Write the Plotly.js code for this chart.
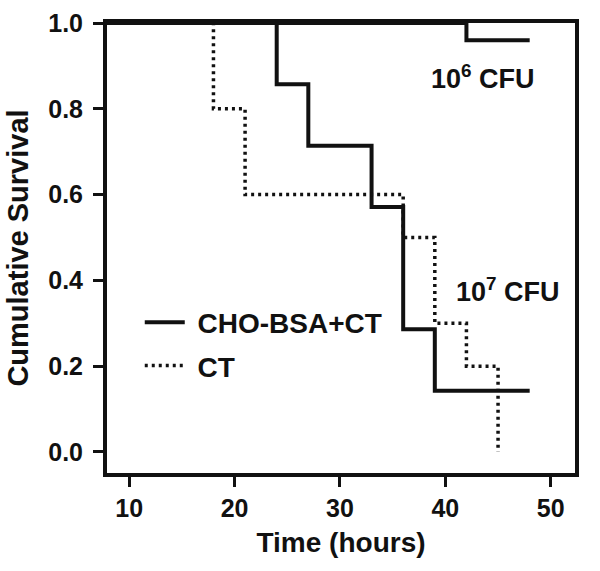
<!DOCTYPE html>
<html>
<head>
<meta charset="utf-8">
<script src="https://cdn.plot.ly/plotly-3.0.1.min.js"></script>
<style>html,body{margin:0;padding:0;background:#fff;}#chart{width:600px;height:571px;}</style>
</head>
<body>
<div id="chart"></div>
<script>
// Data (Kaplan-Meier step curves)
const choTime = [0, 24, 27, 33, 36, 39, 48];
const choSurv = [1.0, 0.857, 0.714, 0.571, 0.286, 0.143, 0.143];
const ctTime = [0, 18, 21, 36, 39, 42, 45];
const ctSurv = [1.0, 0.8, 0.6, 0.5, 0.3, 0.2, 0.0];
const lowDoseTime = [0, 42, 48];
const lowDoseSurv = [1.0, 0.96, 0.96];
const seriesNames = ["CHO-BSA+CT", "CT"];
const xTicks = [10, 20, 30, 40, 50];
const yTicks = [0.0, 0.2, 0.4, 0.6, 0.8, 1.0];
const yTickText = ["0.0", "0.2", "0.4", "0.6", "0.8", "1.0"];
const doseLabels = ["10<sup>6</sup> CFU", "10<sup>7</sup> CFU"];

const FONT = "Liberation Sans, Arial, Helvetica, sans-serif";
const INK = "#111111";
const NB = "\u00a0";

const traces = [
  {x: choTime, y: choSurv, name: NB + seriesNames[0], type: "scatter", mode: "lines",
   line: {shape: "hv", color: INK, width: 4}, legendgroup: "a"},
  {x: ctTime, y: ctSurv, name: NB + seriesNames[1], type: "scatter", mode: "lines",
   line: {shape: "hv", color: INK, width: 3.5, dash: "3px,4px"}, legendgroup: "b"},
  {x: lowDoseTime, y: lowDoseSurv, name: "10^6", type: "scatter", mode: "lines",
   line: {shape: "hv", color: INK, width: 4}, showlegend: false}
];

const layout = {
  width: 600, height: 571,
  paper_bgcolor: "#fff", plot_bgcolor: "#fff",
  margin: {l: 107, r: 25, t: 23, b: 98},
  font: {family: FONT, color: INK, size: 25, weight: 700},
  showlegend: true,
  legend: {x: 0.07, y: 0.39, xanchor: "left", yanchor: "top", bgcolor: "rgba(0,0,0,0)",
           font: {family: FONT, size: 28, color: INK, weight: 700},
           traceorder: "grouped", tracegroupgap: 4, itemwidth: 40},
  xaxis: {
    range: [7.9, 52.3], tickvals: xTicks, ticks: "outside", ticklen: 10, tickwidth: 3,
    tickcolor: INK, showline: true, linewidth: 4, linecolor: INK, mirror: true,
    showgrid: false, zeroline: false, ticklabelstandoff: 0,
    tickfont: {family: FONT, size: 25, color: INK, weight: 700},
    title: {text: "Time (hours)", font: {family: FONT, size: 28, color: INK, weight: 700}, standoff: 12}
  },
  yaxis: {
    range: [-0.049, 1.0], tickvals: yTicks, ticktext: yTickText, ticks: "outside", ticklen: 10, tickwidth: 3,
    tickcolor: INK, showline: true, linewidth: 4, linecolor: INK, mirror: true,
    showgrid: false, zeroline: false, ticklabelstandoff: 5,
    tickfont: {family: FONT, size: 25, color: INK, weight: 700},
    title: {text: NB + NB + "Cumulative Survival", font: {family: FONT, size: 29, color: INK, weight: 700}, standoff: 12}
  },
  annotations: [
    {x: 43.6, y: 0.875, xref: "x", yref: "y", text: doseLabels[0], showarrow: false,
     font: {family: FONT, size: 27, color: INK, weight: 700}},
    {x: 45.9, y: 0.378, xref: "x", yref: "y", text: doseLabels[1], showarrow: false,
     font: {family: FONT, size: 27, color: INK, weight: 700}}
  ]
};

Plotly.newPlot("chart", traces, layout, {staticPlot: true, displayModeBar: false});
</script>
</body>
</html>
